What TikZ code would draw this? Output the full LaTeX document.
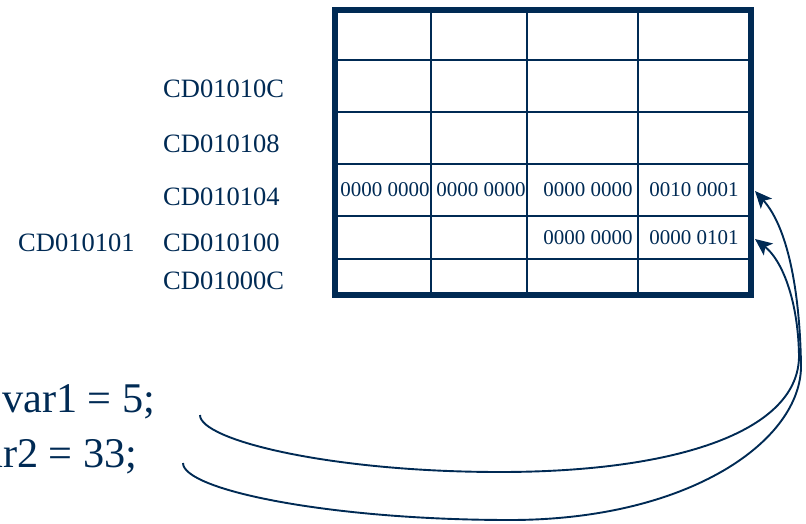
\documentclass[tikz,border=0pt]{standalone}
\usepackage{fontspec}
\setmainfont{Liberation Serif}
\usetikzlibrary{arrows.meta}
\definecolor{navy}{HTML}{002A54}
\begin{document}
\begin{tikzpicture}[x=1pt,y=-1pt,
  addr/.style={anchor=west,inner sep=0pt,font=\fontsize{26.5}{30}\selectfont,text=navy},
  cell/.style={inner sep=0pt,font=\fontsize{21}{24}\selectfont,text=navy},
  code/.style={inner sep=0pt,font=\fontsize{42.3}{48}\selectfont,text=navy},
  gridline/.style={draw=navy,line width=2pt},
  frame/.style={draw=navy,line width=5.5pt},
  link/.style={draw=navy,line width=1.9pt,-{Stealth[length=17pt,width=15pt,inset=4pt]}}]
\useasboundingbox (0,0) rectangle (806,524);
% memory table
\foreach \y in {60,112,164,216,259} \draw[gridline] (335,\y) -- (751,\y);
\foreach \x in {431,527,638} \draw[gridline] (\x,10) -- (\x,295);
\draw[frame] (335,10) rectangle (751,295);
% cell contents
\node[cell] (r4c1) at (385,190) {0000 0000};
\node[cell] (r4c2) at (481,190) {0000 0000};
\node[cell] (r4c3) at (588,190) {0000 0000};
\node[cell] (r4c4) at (694,190) {0010 0001};
\node[cell] (r5c3) at (588,238) {0000 0000};
\node[cell] (r5c4) at (694,238) {0000 0101};
% addresses
\node[addr] (a10c) at (163,89) {CD01010C};
\node[addr] (a108) at (163,144) {CD010108};
\node[addr] (a104) at (163,197) {CD010104};
\node[addr] (a100) at (163,243) {CD010100};
\node[addr] (a00c) at (163,281) {CD01000C};
\node[addr] (a101) at (18,243) {CD010101};
% code
\node[code,anchor=base west] (v1) at (2,412) {var1 = 5;};
\node[code,anchor=base east] (v2) at (137.5,467) {var2 = 33;};
% connectors
\coordinate (s1) at (200,415);
\coordinate (s2) at (183,463);
\coordinate (t5) at (755,239);
\coordinate (t4) at (755,191);
\draw[link] (s1) .. controls (200,440) and (330,472) .. (500,472)
  .. controls (680,472) and (800,430) .. (799,355)
  .. controls (798,300) and (782,260) .. (t5);
\draw[link] (s2) .. controls (183,490) and (330,520) .. (510,520)
  .. controls (690,520) and (802,440) .. (801,365)
  .. controls (800,300) and (790,230) .. (t4);
\end{tikzpicture}
\end{document}
